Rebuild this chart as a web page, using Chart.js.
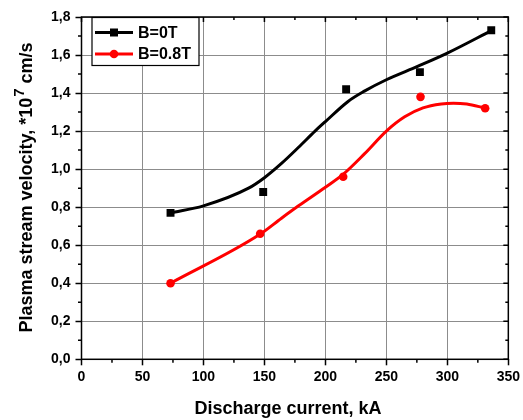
<!DOCTYPE html>
<html>
<head>
<meta charset="utf-8">
<script src="https://cdn.jsdelivr.net/npm/chart.js@4/dist/chart.umd.min.js"></script>
<style>
  html, body { margin: 0; padding: 0; background: #fff; }
  #wrap { width: 523px; height: 420px; position: relative; }
</style>
</head>
<body>
<div id="wrap"><canvas id="chart"></canvas></div>
<script>
// Measured points (markers)
const currentB0 = [73, 149, 217, 277.5, 336];
const velocityB0 = [0.77, 0.88, 1.42, 1.51, 1.73];
const currentB08 = [73, 146.5, 214.6, 278, 331];
const velocityB08 = [0.40, 0.66, 0.96, 1.38, 1.32];

// Smooth fit curves
const fitCurrentB0 = [73, 100, 137, 150, 164, 178, 191.5, 200, 218.6, 232, 250, 275.6, 300, 336];
const fitVelocityB0 = [0.77, 0.807, 0.9, 0.955, 1.03, 1.115, 1.2, 1.25, 1.356, 1.41, 1.47, 1.54, 1.61, 1.728];
const fitCurrentB08 = [73, 146, 164, 178, 200, 215, 232, 250, 265, 280, 295, 305, 316, 331];
const fitVelocityB08 = [0.40, 0.656, 0.742, 0.807, 0.905, 0.975, 1.08, 1.2, 1.275, 1.322, 1.343, 1.347, 1.342, 1.321];

const seriesLabels = ['B=0T', 'B=0.8T'];
const seriesColors = ['#000000', '#ff0000'];

const toXY = (xs, ys) => xs.map((x, i) => ({ x, y: ys[i] }));
const FONT = '"Liberation Sans", Arial, sans-serif';

// frame, minor ticks and mirrored inward ticks
const framePlugin = {
  id: 'frame',
  afterDraw(c) {
    const { ctx, chartArea: a } = c;
    const xs = c.scales.x;
    const ys = c.scales.y;
    ctx.save();
    ctx.strokeStyle = '#000';
    ctx.lineWidth = 1.5;
    ctx.beginPath();
    for (let v = 0; v <= 350; v += 25) {
      const px = xs.getPixelForValue(v);
      const major = v % 50 === 0;
      if (!major) {
        ctx.moveTo(px, a.bottom); ctx.lineTo(px, a.bottom + 3.5);
      }
      ctx.moveTo(px, a.top); ctx.lineTo(px, a.top + (major ? 5 : 3));
    }
    for (let i = 0; i <= 18; i += 1) {
      const py = ys.getPixelForValue(i / 10);
      const major = i % 2 === 0;
      if (!major) {
        ctx.moveTo(a.left, py); ctx.lineTo(a.left - 3.5, py);
      }
      ctx.moveTo(a.right, py); ctx.lineTo(a.right - (major ? 5 : 3), py);
    }
    ctx.stroke();
    ctx.strokeRect(a.left, a.top, a.right - a.left, a.bottom - a.top);
    ctx.restore();
  },
};

// axis titles (with superscript)
const titlesPlugin = {
  id: 'titles',
  afterDraw(c) {
    const { ctx } = c;
    ctx.save();
    ctx.fillStyle = '#000';
    ctx.font = `bold 18px ${FONT}`;
    ctx.textAlign = 'center';
    ctx.textBaseline = 'middle';
    ctx.fillText('Discharge current, kA', 288, 409);

    const partA = 'Plasma stream velocity, *10';
    const partB = '7';
    const partC = ' cm/s';
    ctx.translate(27, 188);
    ctx.rotate(-Math.PI / 2);
    ctx.textAlign = 'left';
    const wA = ctx.measureText(partA).width;
    const wC = ctx.measureText(partC).width;
    ctx.font = `bold 15px ${FONT}`;
    const wB = ctx.measureText(partB).width;
    const start = -(wA + wB + wC) / 2;
    ctx.font = `bold 18px ${FONT}`;
    ctx.fillText(partA, start, 0);
    ctx.fillText(partC, start + wA + wB + 1, 0);
    ctx.font = `bold 15px ${FONT}`;
    ctx.fillText(partB, start + wA + 1, -7);
    ctx.restore();
  },
};

// boxed legend inside the plot
const legendPlugin = {
  id: 'boxLegend',
  afterDraw(c) {
    const { ctx } = c;
    const box = { x: 92, y: 17.5, w: 107, h: 48 };
    ctx.save();
    ctx.fillStyle = '#fff';
    ctx.fillRect(box.x, box.y, box.w, box.h);
    ctx.strokeStyle = '#000';
    ctx.lineWidth = 1.2;
    ctx.strokeRect(box.x, box.y, box.w, box.h);
    seriesLabels.forEach((label, i) => {
      const y = 32.5 + i * 21.5;
      ctx.strokeStyle = seriesColors[i];
      ctx.fillStyle = seriesColors[i];
      ctx.lineWidth = 3;
      ctx.beginPath();
      ctx.moveTo(95, y); ctx.lineTo(133, y);
      ctx.stroke();
      if (i === 0) {
        ctx.fillRect(114 - 4, y - 4, 8, 8);
      } else {
        ctx.beginPath();
        ctx.arc(114, y, 4.3, 0, Math.PI * 2);
        ctx.fill();
      }
      ctx.fillStyle = '#000';
      ctx.font = `bold 16px ${FONT}`;
      ctx.textBaseline = 'middle';
      ctx.textAlign = 'left';
      ctx.fillText(label, 138, y + 1);
    });
    ctx.restore();
  },
};

const ctx = document.getElementById('chart');
// eslint-disable-next-line no-unused-vars
const chart = new Chart(ctx, {
  type: 'scatter',
  data: {
    datasets: [
      {
        label: 'fit B=0T',
        data: toXY(fitCurrentB0, fitVelocityB0),
        showLine: true,
        borderColor: seriesColors[0],
        borderWidth: 3,
        pointRadius: 0,
        cubicInterpolationMode: 'monotone',
        order: 3,
      },
      {
        label: 'fit B=0.8T',
        data: toXY(fitCurrentB08, fitVelocityB08),
        showLine: true,
        borderColor: seriesColors[1],
        borderWidth: 3,
        pointRadius: 0,
        cubicInterpolationMode: 'monotone',
        order: 3,
      },
      {
        label: seriesLabels[0],
        data: toXY(currentB0, velocityB0),
        showLine: false,
        pointStyle: 'rect',
        pointRadius: 5.6,
        backgroundColor: seriesColors[0],
        borderWidth: 0,
        order: 1,
      },
      {
        label: seriesLabels[1],
        data: toXY(currentB08, velocityB08),
        showLine: false,
        pointStyle: 'circle',
        pointRadius: 4.3,
        backgroundColor: seriesColors[1],
        borderWidth: 0,
        order: 1,
      },
    ],
  },
  options: {
    responsive: true,
    maintainAspectRatio: false,
    animation: false,
    layout: {
      padding: { left: 0, right: 13, top: 17, bottom: 0 },
    },
    plugins: {
      legend: { display: false },
      tooltip: { enabled: false },
    },
    scales: {
      x: {
        type: 'linear',
        min: 0,
        max: 350,
        afterFit(scale) { scale.height = 60.7; },
        ticks: {
          stepSize: 50,
          color: '#000',
          padding: 3,
          font: { family: FONT, size: 14, weight: 'bold' },
        },
        grid: {
          color: '#8c8c8c',
          lineWidth: 1,
          tickColor: '#000',
          tickLength: 6,
          tickWidth: 1.5,
        },
        border: { display: false },
      },
      y: {
        type: 'linear',
        min: 0,
        max: 1.8,
        afterFit(scale) { scale.width = 81.5; },
        ticks: {
          stepSize: 0.2,
          color: '#000',
          padding: 5,
          font: { family: FONT, size: 14, weight: 'bold' },
          callback: (v) => Number(v).toFixed(1).replace('.', ','),
        },
        grid: {
          color: '#8c8c8c',
          lineWidth: 1,
          tickColor: '#000',
          tickLength: 6,
          tickWidth: 1.5,
        },
        border: { display: false },
      },
    },
  },
  plugins: [framePlugin, titlesPlugin, legendPlugin],
});
</script>
</body>
</html>
